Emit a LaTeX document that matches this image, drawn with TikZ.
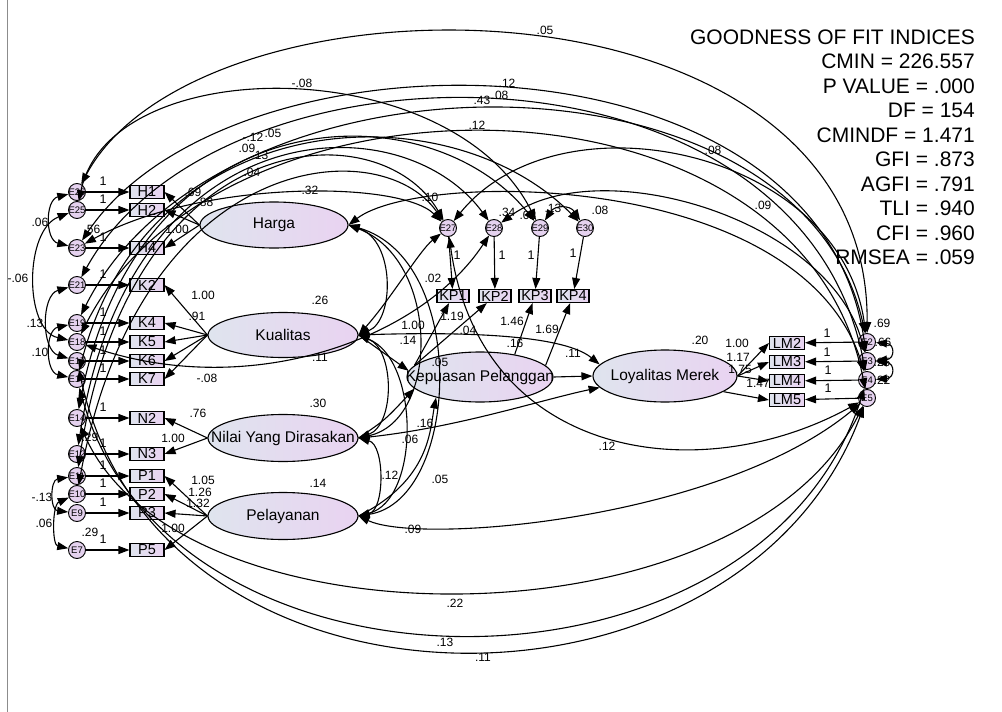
\documentclass[tikz,border=0pt]{standalone}
\usepackage{fontspec}
\setmainfont{Liberation Sans}
\usetikzlibrary{arrows.meta,shapes.geometric}
\definecolor{shadel}{HTML}{DFE4EE}
\definecolor{shader}{HTML}{E9D3F1}
\definecolor{errfill}{HTML}{E5D2EF}
\newcommand{\nobox}[1]{\makebox[0pt]{#1}}
\tikzset{
  latent/.style={draw, ellipse, line width=1.1pt, left color=shadel, right color=shader,
    inner sep=0pt, minimum width=150pt, minimum height=45pt, font=\fontsize{15.5}{16}\selectfont},
  obsbox/.style={draw, rectangle, line width=1.1pt, left color=shadel, right color=shader,
    inner sep=0pt, minimum width=34pt, minimum height=13pt, font=\fontsize{14.5}{14}\selectfont},
  errc/.style={draw, circle, line width=0.9pt, fill=errfill, inner sep=0pt,
    minimum size=17pt, font=\fontsize{9.5}{9}\selectfont},
  lbl/.style={inner sep=0pt, font=\fontsize{12}{12}\selectfont},
  pth/.style={line width=1.1pt, -{Triangle[length=11pt,width=8pt]}},
  cov/.style={line width=1.1pt, {Triangle[length=11pt,width=8pt]}-{Triangle[length=11pt,width=8pt]}},
  fitline/.style={inner sep=0pt, anchor=base east, font=\fontsize{21}{24}\selectfont}
}
\begin{document}
\begin{tikzpicture}[x=1pt, y=-1pt]
  \useasboundingbox (0,0) rectangle (1002,712);
  \draw[black!45, line width=0.8pt] (7,0) -- (7,712);

  % latent variables
  \node[latent, minimum width=148pt, minimum height=46pt] (harga) at (274,225) {\nobox{Harga}};
  \node[latent] (kual) at (283,335) {\nobox{Kualitas}};
  \node[latent, minimum height=47pt] (nilai) at (283,438) {\nobox{Nilai Yang Dirasakan}};
  \node[latent, minimum height=47pt] (pel) at (283,516) {\nobox{Pelayanan}};
  \node[latent, minimum width=146pt, minimum height=50pt] (kep) at (480,377) {\nobox{Kepuasan Pelanggan}};
  \node[latent, minimum width=144pt, minimum height=52pt] (loy) at (665,376) {\nobox{Loyalitas Merek}};

  % indicators and their errors
  \foreach \nm/\tx/\yy in {h1/H1/192, h2/H2/210, h4/H4/248, k2/K2/285, k4/K4/323, k5/K5/342,
      k6/K6/361, k7/K7/379, n2/N2/418, n3/N3/454, p1/P1/476, p2/P2/494, p3/P3/513, p5/P5/550}
    \node[obsbox] (\nm) at (147,\yy) {\tx};
  \foreach \nm/\tx/\yy in {e26/E26/192, e25/E25/210, e23/E23/248, e21/E21/285, e19/E19/323,
      e18/E18/342, e17/E17/361, e16/E16/379, e14/E14/418, e12/E12/454, e11/E11/476,
      e10/E10/494, e9/E9/513, e7/E7/550}
    \node[errc] (\nm) at (77,\yy) {\nobox{\tx}};
  \foreach \nm/\tx/\xx in {kp1/KP1/453, kp2/KP2/495, kp3/KP3/535, kp4/KP4/573}
    \node[obsbox, minimum width=32pt] (\nm) at (\xx,296) {\tx};
  \foreach \nm/\tx/\xx in {e27/E27/448, e28/E28/494, e29/E29/540, e30/E30/585}
    \node[errc] (\nm) at (\xx,228) {\nobox{\tx}};
  \foreach \nm/\tx/\yy in {lm2/LM2/343, lm3/LM3/362, lm4/LM4/381, lm5/LM5/400}
    \node[obsbox, minimum width=35pt] (\nm) at (787,\yy) {\tx};
  \foreach \nm/\tx/\yy in {e2/E2/342, e3/E3/361, e4/E4/380, e5/E5/398}
    \node[errc] (\nm) at (867,\yy) {\nobox{\tx}};

  % error -> indicator
  \foreach \a/\b in {e26/h1, e25/h2, e23/h4, e21/k2, e19/k4, e18/k5, e17/k6, e16/k7,
      e14/n2, e12/n3, e11/p1, e10/p2, e9/p3, e7/p5, e27/kp1, e28/kp2, e29/kp3, e30/kp4,
      e2/lm2, e3/lm3, e4/lm4, e5/lm5}
    \draw[pth] (\a) -- (\b);

  % loadings
  \foreach \b in {h1,h2,h4} \draw[pth] (harga.west) -- (\b.east);
  \foreach \b in {k2,k4,k5,k6,k7} \draw[pth] (kual.west) -- (\b.east);
  \foreach \b in {n2,n3} \draw[pth] (nilai.west) -- (\b.east);
  \foreach \b in {p1,p2,p3,p5} \draw[pth] (pel.west) -- (\b.east);
  \draw[pth] (kep.170) -- (kp1);
  \draw[pth] (kep.170) -- (kp2);
  \draw[pth] (kep.33) -- (kp3);
  \draw[pth] (kep.10) -- (kp4);
  \foreach \b in {lm2,lm3,lm4} \draw[pth] (loy.east) -- (\b.west);
  \draw[pth] (loy.-15) -- (lm5.west);

  % structural paths
  \draw[pth] (kep.east) -- (loy.west);
  \draw[pth] (kual.east) -- (kep.175);
  \draw[pth] (nilai.east) .. controls (385,420) .. (kep.190);
  \draw[pth] (pel.east) .. controls (430,480) and (430,430) .. (kep.205);
  \draw[pth] (kual.east) .. controls (440,332) and (560,332) .. (loy.170);
  \draw[pth] (nilai.east) .. controls (450,430) and (540,400) .. (loy.190);

  % covariances of the latents
  \draw[cov] (harga.east) .. controls (395,240) and (395,320) .. (kual.east);
  \draw[cov] (harga.east) .. controls (440,260) and (440,420) .. (nilai.east);
  \draw[cov] (harga.east) .. controls (470,260) and (460,500) .. (pel.east);
  \draw[cov] (kual.east) .. controls (395,350) and (395,425) .. (nilai.east);
  \draw[cov] (kual.east) .. controls (420,360) and (420,500) .. (pel.east);
  \draw[cov] (nilai.east) .. controls (385,445) and (385,510) .. (pel.east);

  % covariances of the errors, left side
  \draw[cov] (e26) .. controls (45,200) and (45,240) .. (e23);
  \draw[cov] (e25) .. controls (24,230) and (24,330) .. (e18);
  \draw[cov] (e21) .. controls (41,295) and (41,350) .. (e17);
  \draw[cov] (e19) .. controls (45,330) and (45,372) .. (e16);
  \draw[cov] (e11) .. controls (50,480) and (50,510) .. (e9);
  \draw[cov] (e10) .. controls (52,505) and (52,545) .. (e7);
  \draw[cov] (e2) .. controls (895,344) and (895,359) .. (e3);
  \draw[cov] (e3) .. controls (895,363) and (895,378) .. (e4);
  \draw[cov] (e29) .. controls (555,205) and (570,205) .. (e30);

  % long covariances over the top
  \draw[cov] (e26) .. controls (200,-38) and (870,-38) .. (e2);
  \draw[cov] (e25) .. controls (110,51) and (450,51) .. (e29);
  \draw[cov] (e23) .. controls (230,21) and (820,21) .. (e3);
  \draw[cov] (e21) .. controls (220,27) and (800,27) .. (e4);
  \draw[cov] (e19) .. controls (220,38) and (800,38) .. (e2);
  \draw[cov] (e18) .. controls (220,57) and (800,57) .. (e5);
  \draw[cov] (e16) .. controls (150,100) and (450,90) .. (e30);
  \draw[cov] (e14) .. controls (140,90) and (430,90) .. (e29);
  \draw[cov] (e12) .. controls (130,110) and (400,100) .. (e28);
  \draw[cov] (e11) .. controls (130,120) and (380,110) .. (e27);
  \draw[cov] (e10) .. controls (140,150) and (380,130) .. (e27);
  \draw[cov] (e27) .. controls (560,90) and (840,150) .. (e2);
  \draw[cov] (e28) .. controls (600,150) and (830,220) .. (e3);
  \draw[cov] (harga.east) .. controls (420,170) and (800,170) .. (e4);
  \draw[cov] (e23) .. controls (200,180) and (400,180) .. (e27);
  \draw[cov] (kual.east) .. controls (390,300) and (420,250) .. (e27);
  \draw[cov] (e18) .. controls (250,400) and (420,340) .. (e28);

  % long covariances under the bottom
  \draw[cov] (e14) .. controls (180,650) and (740,650) .. (e5);
  \draw[cov] (e16) .. controls (170,716) and (760,716) .. (e4);
  \draw[cov] (e17) .. controls (160,738) and (740,738) .. (e5);
  \draw[cov] (pel.east) .. controls (420,545) and (720,520) .. (e5);
  \draw[cov] (e27) .. controls (480,460) and (700,490) .. (e5);

  % fixed weights
  \foreach \xx/\yy [count=\i] in {103/181, 103/199, 103/237, 103/274, 103/312, 103/331, 103/350,
      103/368, 103/407, 103/443, 103/465, 103/483, 103/502, 103/539, 457/255, 502/255,
      531/255, 573/253, 827/333, 827/352, 828/370, 828/388}
    \node[lbl, font=\fontsize{12.5}{12}\selectfont] (one\i) at (\xx,\yy) {1};

  % estimates
  \foreach \xx/\yy/\tt [count=\i] in {193/192/.69, 205/202/.88, 177/229/1.00, 203/295/1.00,
      197/316/.91, 207/378/-.08, 198/413/.76, 173/438/1.00, 203/480/1.05, 200/492/1.26,
      198/503/1.32, 173/528/1.00, 413/325/1.00, 452/316/1.19, 468/330/.04, 512/321/1.46,
      547/329/1.69, 737/343/1.00, 738/357/1.17, 740/369/1.75, 758/383/1.47,
      408/340/.14, 425/423/.16, 410/439/.06, 390/475/.12, 440/479/.05, 413/529/.09,
      440/362/.05, 515/343/.16, 573/353/.11, 607/446/.12, 433/278/.02, 320/357/.11,
      310/190/.32, 320/300/.26, 318/403/.30, 318/483/.14, 700/340/.20, 92/229/.56,
      90/437/.29, 90/532/.29, 882/323/.69, 883/342/.66, 882/362/.25, 882/380/.22,
      507/212/.34, 528/215/.02, 600/210/.08, 545/30/.05, 302/83/-.08, 507/83/.12,
      482/100/.43, 500/95/.08, 477/125/.12, 253/137/-.12, 273/133/.05, 247/148/.09,
      260/155/.13, 252/172/.04, 713/150/.08, 763/205/.09, 430/197/.10, 553/208/.13,
      455/603/.22, 445/642/.13, 483/657/.11, 40/222/.06, 18/278/-.06, 35/323/.13,
      40/352/.10, 42/497/-.13, 44/523/.06}
    \node[lbl] (est\i) at (\xx,\yy) {\tt};

  % fit indices
  \foreach \t [count=\i from 0] in {GOODNESS OF FIT INDICES, CMIN = 226.557, P VALUE = .000,
      DF = 154, CMINDF = 1.471, GFI = .873, AGFI = .791, TLI = .940, CFI = .960, RMSEA = .059}
    \node[fitline] (fit\i) at (975,{44+24.5*\i}) {\t};
\end{tikzpicture}
\end{document}
